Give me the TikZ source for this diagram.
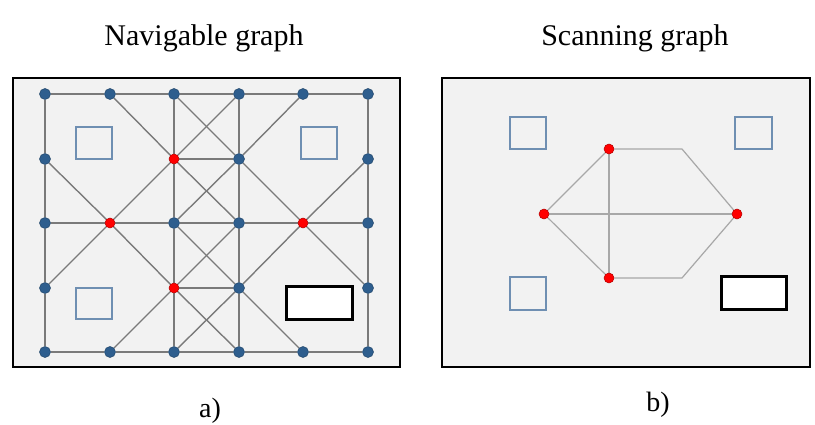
\documentclass[tikz,border=0pt]{standalone}
\usepackage{fontspec}
\setmainfont{Liberation Serif}
\pgfdeclarelayer{bg}
\pgfdeclarelayer{edges}
\pgfsetlayers{bg,edges,main}
\definecolor{panelbg}{HTML}{F2F2F2}
\definecolor{nodeblue}{HTML}{2E5E8E}
\definecolor{edgegray}{HTML}{7A7A7A}
\definecolor{lightedge}{HTML}{A8A8A8}
\definecolor{obstblue}{HTML}{6F8FB2}
\begin{document}
\begin{tikzpicture}[x=1pt,y=-1pt,
  panel/.style={draw=black, line width=2.5pt, fill=panelbg},
  bnode/.style={circle, fill=nodeblue, draw=nodeblue!75!black, line width=0.5pt, inner sep=0pt, minimum size=11pt},
  rnode/.style={circle, fill=red, draw=red!70!black, line width=0.5pt, inner sep=0pt, minimum size=10pt},
  edge/.style={draw=edgegray, line width=1.4pt},
  sedge/.style={draw=lightedge, line width=1.2pt},
  obst/.style={draw=obstblue, line width=1.5pt},
  block/.style={draw=black, line width=3pt, fill=white},
  title/.style={font=\fontsize{30}{34}\selectfont, inner sep=0pt},
  caption/.style={font=\fontsize{28}{32}\selectfont, inner sep=0pt}]
\useasboundingbox (0,0) rectangle (815,425);

% titles and captions
\node[title] (t1) at (204,38) {Navigable graph};
\node[title] (t2) at (635,38) {Scanning graph};
\node[caption] (ca) at (210,411) {a)};
\node[caption] (cb) at (658,405) {b)};

% panels
\begin{pgfonlayer}{bg}
\path[panel] (13,78) rectangle (400,367);
\path[panel] (442,78) rectangle (810,367);
\end{pgfonlayer}

% obstacles left
\draw[obst] (76,127) rectangle (112,159);
\draw[obst] (301,127) rectangle (337,159);
\draw[obst] (76,288) rectangle (112,319);
\draw[block] (286,287) rectangle (352,319);
% obstacles right
\draw[obst] (510,117) rectangle (546,149);
\draw[obst] (735,117) rectangle (772,149);
\draw[obst] (510,277) rectangle (546,310);
\draw[block] (721,277) rectangle (786,309);

% left graph nodes
\foreach \n/\x/\y in {00/45/94,10/110/94,20/174/94,30/239/94,40/303/94,50/368/94,
  01/45/159,31/239/159,51/368/159,
  02/45/223,22/174/223,32/239/223,52/368/223,
  03/45/288,33/239/288,53/368/288,
  04/45/352,14/110/352,24/174/352,34/239/352,44/303/352,54/368/352}
  \node[bnode] (n\n) at (\x,\y) {};
\foreach \n/\x/\y in {21/174/159,12/110/223,42/303/223,23/174/288}
  \node[rnode] (n\n) at (\x,\y) {};

\begin{pgfonlayer}{edges}
\draw[edge] (n00) -- (n10) -- (n20) -- (n30) -- (n40) -- (n50);
\draw[edge] (n04) -- (n14) -- (n24) -- (n34) -- (n44) -- (n54);
\draw[edge] (n00) -- (n01) -- (n02) -- (n03) -- (n04);
\draw[edge] (n50) -- (n51) -- (n52) -- (n53) -- (n54);
\draw[edge] (n02) -- (n12) -- (n22) -- (n32) -- (n42) -- (n52);
\draw[edge] (n21) -- (n31);
\draw[edge] (n23) -- (n33);
\draw[edge] (n20) -- (n21) -- (n22) -- (n23) -- (n24);
\draw[edge] (n30) -- (n31) -- (n32) -- (n33) -- (n34);
\foreach \a/\b in {20/31,30/21,21/32,31/22,22/33,32/23,23/34,33/24,
  10/21,01/12,12/21,12/23,03/12,14/23,
  42/31,42/51,42/33,42/53,40/31,44/33}
  \draw[edge] (n\a) -- (n\b);
\end{pgfonlayer}

% right graph
\node[rnode] (s1) at (544,214) {};
\node[rnode] (s2) at (609,149) {};
\node[rnode] (s3) at (737,214) {};
\node[rnode] (s4) at (609,278) {};
\coordinate (h1) at (682,149);
\coordinate (h2) at (682,278);
\begin{pgfonlayer}{edges}
\draw[sedge, line join=round] (s1) -- (s2) -- (h1) -- (s3) -- (h2) -- (s4) -- (s1);
\draw[sedge] (s1) -- (s3);
\draw[sedge] (s2) -- (s4);
\end{pgfonlayer}
\end{tikzpicture}
\end{document}
